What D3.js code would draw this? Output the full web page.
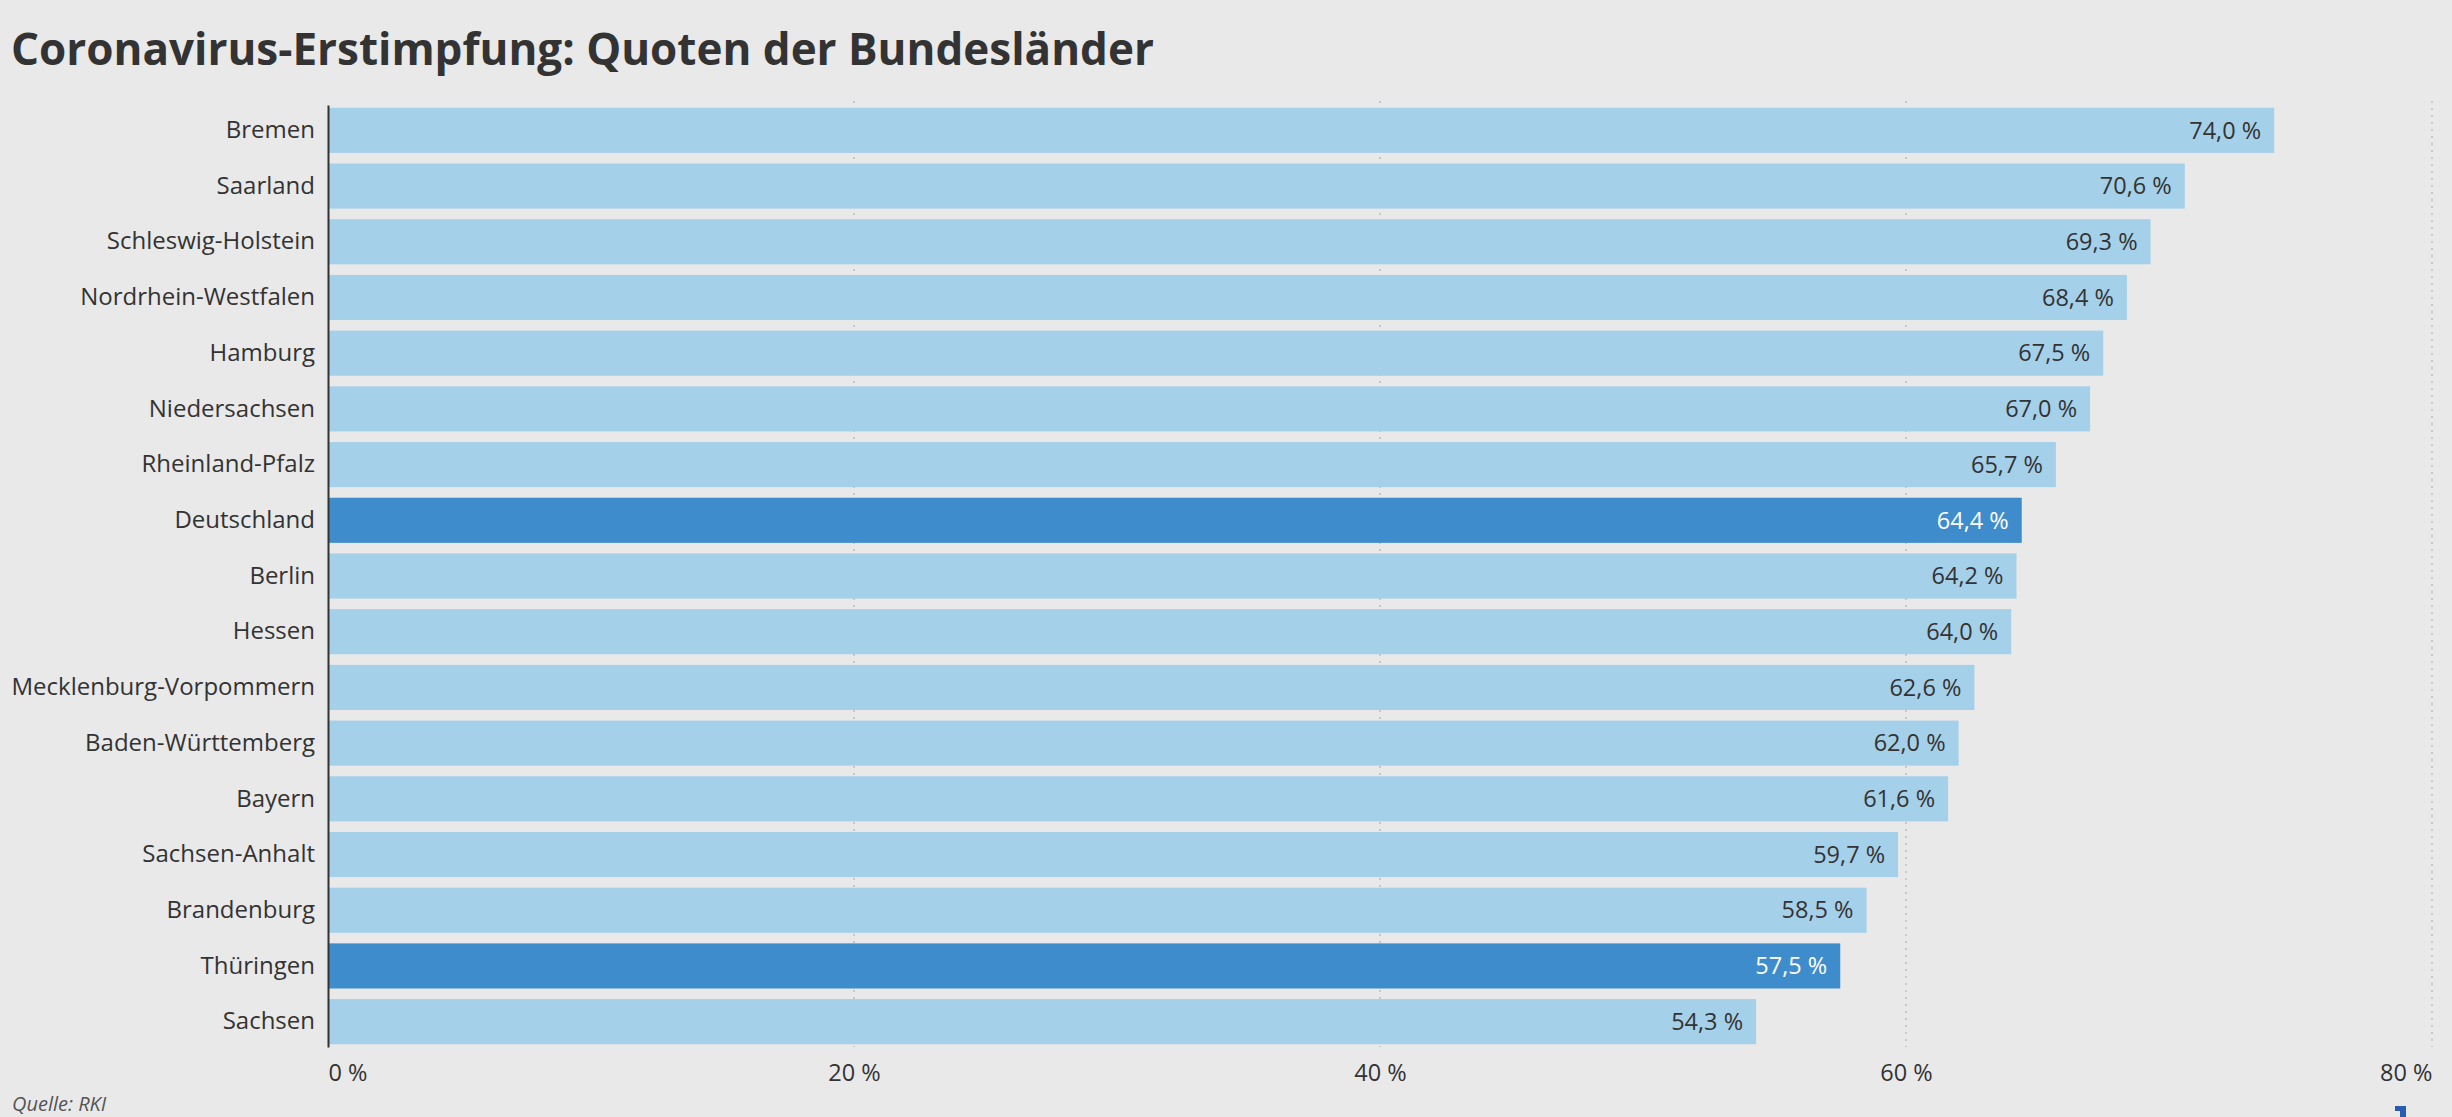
<!DOCTYPE html>
<html>
<head>
<meta charset="utf-8">
<script src="https://cdn.jsdelivr.net/npm/d3@7"></script>
<style>
  html, body { margin: 0; padding: 0; background: #e9e9e9; }
  svg { display: block; font-family: "Open Sans", sans-serif; }
</style>
</head>
<body>
<svg id="chart"></svg>
<script>
// data
const laender = ["Bremen", "Saarland", "Schleswig-Holstein", "Nordrhein-Westfalen", "Hamburg",
    "Niedersachsen", "Rheinland-Pfalz", "Deutschland", "Berlin", "Hessen",
    "Mecklenburg-Vorpommern", "Baden-Württemberg", "Bayern", "Sachsen-Anhalt",
    "Brandenburg", "Thüringen", "Sachsen"];
const quoten = [74.0, 70.6, 69.3, 68.4, 67.5, 67.0, 65.7, 64.4, 64.2, 64.0, 62.6, 62.0, 61.6, 59.7, 58.5, 57.5, 54.3];
const highlighted = ["Deutschland", "Thüringen"];
const xTicks = [0, 20, 40, 60, 80];

const width = 2452;
const height = 1117;
const marginTop = 105;
const marginRight = 20;
const marginBottom = 70;
const marginLeft = 328;

const svg = d3.select("#chart").attr("width", width).attr("height", height);

svg.append("rect").attr("width", width).attr("height", height).attr("fill", "#e9e9e9");

const fmt = v => d3.format(".1f")(v).replace(".", ",") + " %";

const x = d3.scaleLinear()
    .domain([0, 80])
    .range([marginLeft, width - marginRight]);

const y = d3.scaleBand()
    .domain(laender)
    .range([marginTop, height - marginBottom])
    .paddingInner(0.19)
    .paddingOuter(0.05);

// title
svg.append("text")
    .attr("x", 11)
    .attr("y", 65)
    .attr("fill", "#333")
    .attr("font-size", 44)
    .attr("font-weight", 700)
    .text("Coronavirus-Erstimpfung: Quoten der Bundesländer");

// dotted gridlines
svg.append("g")
    .selectAll("line")
    .data(xTicks.slice(1))
    .join("line")
    .attr("x1", d => x(d)).attr("x2", d => x(d))
    .attr("y1", marginTop - 4).attr("y2", height - marginBottom)
    .attr("stroke", "#c8c8c8")
    .attr("stroke-width", 2)
    .attr("stroke-dasharray", "2,5");

// bars
const data = laender.map((d, i) => ({ land: d, wert: quoten[i] }));

svg.append("g")
    .selectAll("rect")
    .data(data)
    .join("rect")
    .attr("x", x(0))
    .attr("y", d => y(d.land))
    .attr("width", d => x(d.wert) - x(0))
    .attr("height", y.bandwidth())
    .attr("fill", d => highlighted.includes(d.land) ? "#3e8ccb" : "#a5d0e9");

// value labels
svg.append("g")
    .selectAll("text")
    .data(data)
    .join("text")
    .attr("x", d => x(d.wert) - 13)
    .attr("y", d => y(d.land) + y.bandwidth() / 2)
    .attr("dy", "0.35em")
    .attr("text-anchor", "end")
    .attr("font-size", 23.5)
    .attr("fill", d => highlighted.includes(d.land) ? "#fff" : "#333")
    .text(d => fmt(d.wert));

// y axis
const yAxis = svg.append("g")
    .attr("transform", `translate(${marginLeft},0)`)
    .call(d3.axisLeft(y).tickSize(0).tickPadding(13));
yAxis.select(".domain").attr("stroke", "#333").attr("stroke-width", 2);
yAxis.selectAll("text").attr("font-size", 24).attr("fill", "#333").attr("font-family", "Open Sans, sans-serif");

// x axis
const xAxis = svg.append("g")
    .attr("transform", `translate(0,${height - marginBottom})`)
    .call(d3.axisBottom(x).tickValues(xTicks).tickSize(0).tickPadding(17).tickFormat(d => d + " %"));
xAxis.select(".domain").remove();
xAxis.selectAll("text")
    .attr("font-size", 23.5)
    .attr("fill", "#333")
    .attr("font-family", "Open Sans, sans-serif")
    .attr("text-anchor", (d, i) => i === 0 ? "start" : (i === xTicks.length - 1 ? "end" : "middle"));

// source line
svg.append("text")
    .attr("x", 12)
    .attr("y", 1111)
    .attr("font-size", 20)
    .attr("font-style", "italic")
    .attr("fill", "#555")
    .text("Quelle: RKI");

// logo fragment bottom right
svg.append("path")
    .attr("d", "M2395,1106 L2406,1106 L2406,1117 L2400,1117 L2400,1111 L2395,1111 Z")
    .attr("fill", "#2a5db0");
</script>
</body>
</html>
